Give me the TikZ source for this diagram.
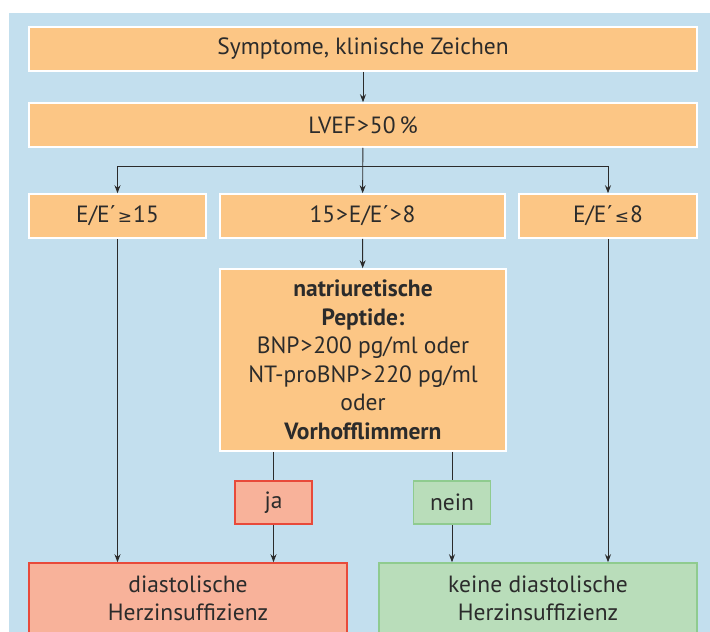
\documentclass[tikz,border=0pt]{standalone}
\usepackage{fontspec}
\setmainfont{PT Sans}
\newfontfamily\symfont{DejaVu Sans}
\usepackage{tikz}
\usetikzlibrary{arrows.meta, positioning}

\definecolor{bgblue}{HTML}{C3DFEE}
\definecolor{boxorange}{HTML}{FCC685}
\definecolor{boxred}{HTML}{F8B29A}
\definecolor{linered}{HTML}{E84A3A}
\definecolor{boxgreen}{HTML}{B9DDBA}
\definecolor{linegreen}{HTML}{8FCB8F}
\definecolor{linedark}{HTML}{2B2B2B}

\newcommand{\gtsign}{\kern1pt>\kern1pt}

\begin{document}
\begin{tikzpicture}[x=1pt, y=-1pt, >={Stealth[length=8pt,width=6pt]},
    every node/.style={font=\fontsize{23.5}{28.5}\selectfont, text=linedark, inner sep=0pt, align=center},
    obox/.style={fill=boxorange, draw=white, line width=1.5pt},
    jabox/.style={fill=boxred, draw=linered, line width=1.5pt},
    neinbox/.style={fill=boxgreen, draw=linegreen, line width=1.5pt},
    conn/.style={draw=linedark, line width=0.9pt}]
            % Hintergrund
            \useasboundingbox (0,0) rectangle (710,632);
            \clip (0,0) rectangle (710,632);
            \fill[bgblue] (9,13) rectangle (712,640);

            % Kaesten
            \node[obox, minimum width=668pt, minimum height=44pt] (sympt) at (363,49) {Symptome, klinische Zeichen};
            \node[obox, minimum width=668pt, minimum height=44pt] (lvef) at (363,125) {LVEF\gtsign 50\,\%};
            \node[obox, minimum width=177pt, minimum height=44pt] (high) at (117.5,216) {E/E´\kern2pt{\symfont\fontsize{17}{20}\selectfont ≥}\kern1pt 15};
            \node[obox, minimum width=285pt, minimum height=44pt] (mid) at (362.5,216) {15\gtsign E/E´\gtsign 8};
            \node[obox, minimum width=178pt, minimum height=44pt] (low) at (608,216) {E/E´\kern2pt{\symfont\fontsize{17}{20}\selectfont ≤}\kern1pt 8};
            \node[obox, minimum width=286pt, minimum height=182pt] (pept) at (363,360)
                {\textbf{natriuretische}\\\textbf{Peptide:}\\BNP\gtsign 200 pg/ml oder\\NT-proBNP\gtsign 220 pg/ml\\oder\\\textbf{Vorhofflimmern}};
            \node[jabox, minimum width=77pt, minimum height=43pt] (ja) at (273.5,502.5) {ja};
            \node[neinbox, minimum width=77pt, minimum height=43pt] (nein) at (452,502.5) {nein};
            \node[jabox, minimum width=318pt, minimum height=71pt] (diag) at (188,598.5) {diastolische\\Herzinsuffizienz};
            \node[neinbox, minimum width=318pt, minimum height=71pt] (nodiag) at (538,598.5) {keine diastolische\\Herzinsuffizienz};

            % Pfeile
            \draw[conn, ->] (sympt) -- (lvef);
            \draw[conn, ->] (lvef) -- (mid);
            \coordinate (split) at (363,166);
            \draw[conn, ->] (split) -| (high);
            \draw[conn, ->] (split) -| (low);
            \draw[conn, ->] (mid) -- (pept);
            \draw[conn, ->] (high) -- (high |- diag.north);
            \draw[conn, ->] (low) -- (low |- nodiag.north);
            \draw[conn] (ja |- pept.south) -- (ja);
            \draw[conn, ->] (ja) -- (ja |- diag.north);
            \draw[conn] (nein |- pept.south) -- (nein);
            \draw[conn, ->] (nein) -- (nein |- nodiag.north);
        \end{tikzpicture}
\end{document}
